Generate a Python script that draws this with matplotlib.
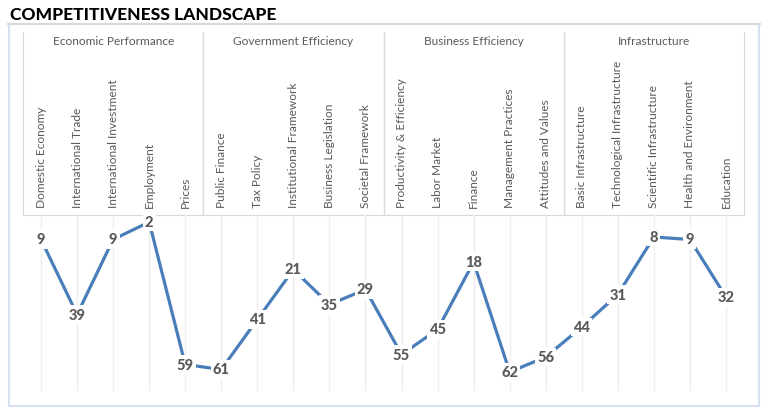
import matplotlib.pyplot as plt
from matplotlib.patches import Rectangle
from matplotlib.lines import Line2D

# DADOS
grupos = ['Economic Performance', 'Government Efficiency', 'Business Efficiency', 'Infrastructure']
fatores = ['Domestic Economy', 'International Trade', 'International Investment', 'Employment', 'Prices',
           'Public Finance', 'Tax Policy', 'Institutional Framework', 'Business Legislation', 'Societal Framework',
           'Productivity & Efficiency', 'Labor Market', 'Finance', 'Management Practices', 'Attitudes and Values',
           'Basic Infrastructure', 'Technological Infrastructure', 'Scientific Infrastructure',
           'Health and Environment', 'Education']
ranking = [9, 39, 9, 2, 59, 61, 41, 21, 35, 29, 55, 45, 18, 62, 56, 44, 31, 8, 9, 32]

W, H = 768, 414
plt.rcParams['font.family'] = ['Lato', 'DejaVu Sans']
CINZA_TXT = '#595959'
CINZA_LINHA = '#d9d9d9'

fig = plt.figure(figsize=(W / 100, H / 100), dpi=100)

def fx(x): return x / W
def fy(y): return 1 - y / H

# TITULO E MOLDURA
fig.text(fx(10), fy(15), 'COMPETITIVENESS LANDSCAPE', fontsize=12.5, fontweight='black',
         color='black', va='center', ha='left')
fig.add_artist(Rectangle((fx(8.5), fy(406.5)), fx(759 - 8.5), (406.5 - 25) / H,
                         transform=fig.transFigure, fill=False, edgecolor='#d6e1f0', linewidth=1.5))
fig.add_artist(Line2D([fx(8), fx(760)], [fy(25), fy(25)], transform=fig.transFigure,
                      color=CINZA_LINHA, linewidth=1.5))

n = len(fatores)

# CABECALHO (grupos + fatores)
ax_h = fig.add_axes([fx(23), fy(216), fx(744 - 23), (216 - 33) / H])
ax_h.set_xlim(-0.5, n - 0.5)
ax_h.set_ylim(0, 183)
ax_h.set_xticks([])
ax_h.set_yticks([])
for lado in ['left', 'right', 'bottom']:
    ax_h.spines[lado].set_color(CINZA_LINHA)
ax_h.spines['top'].set_visible(False)
for g, nome in enumerate(grupos):
    if g > 0:
        ax_h.axvline(g * 5 - 0.5, color=CINZA_LINHA, linewidth=1)
    ax_h.text(g * 5 + 2, 174, nome, ha='center', va='center', fontsize=8.6, color=CINZA_TXT)
for i, f in enumerate(fatores):
    ax_h.text(i, 8, f, rotation=90, ha='center', va='bottom', fontsize=8.6, color=CINZA_TXT)

# GRAFICO DE LINHA
ax = fig.add_axes([fx(23), fy(392), fx(744 - 23), (392 - 216) / H])
ax.set_xlim(-0.5, n - 0.5)
ax.set_ylim(69.6, -0.8)
for i in range(n):
    ax.axvline(i, color='#eeeeee', linewidth=1, zorder=0)
ax.plot(range(n), ranking, color='#4a7ebb', linewidth=2.3, zorder=2)
for i, v in enumerate(ranking):
    ax.text(i, v, str(v), ha='center', va='center', fontsize=10.5, fontweight='black', color=CINZA_TXT,
            zorder=3, bbox=dict(boxstyle='square,pad=0.15', facecolor='white', edgecolor='none'))
ax.axis('off')

plt.savefig('out.png', dpi=100)
